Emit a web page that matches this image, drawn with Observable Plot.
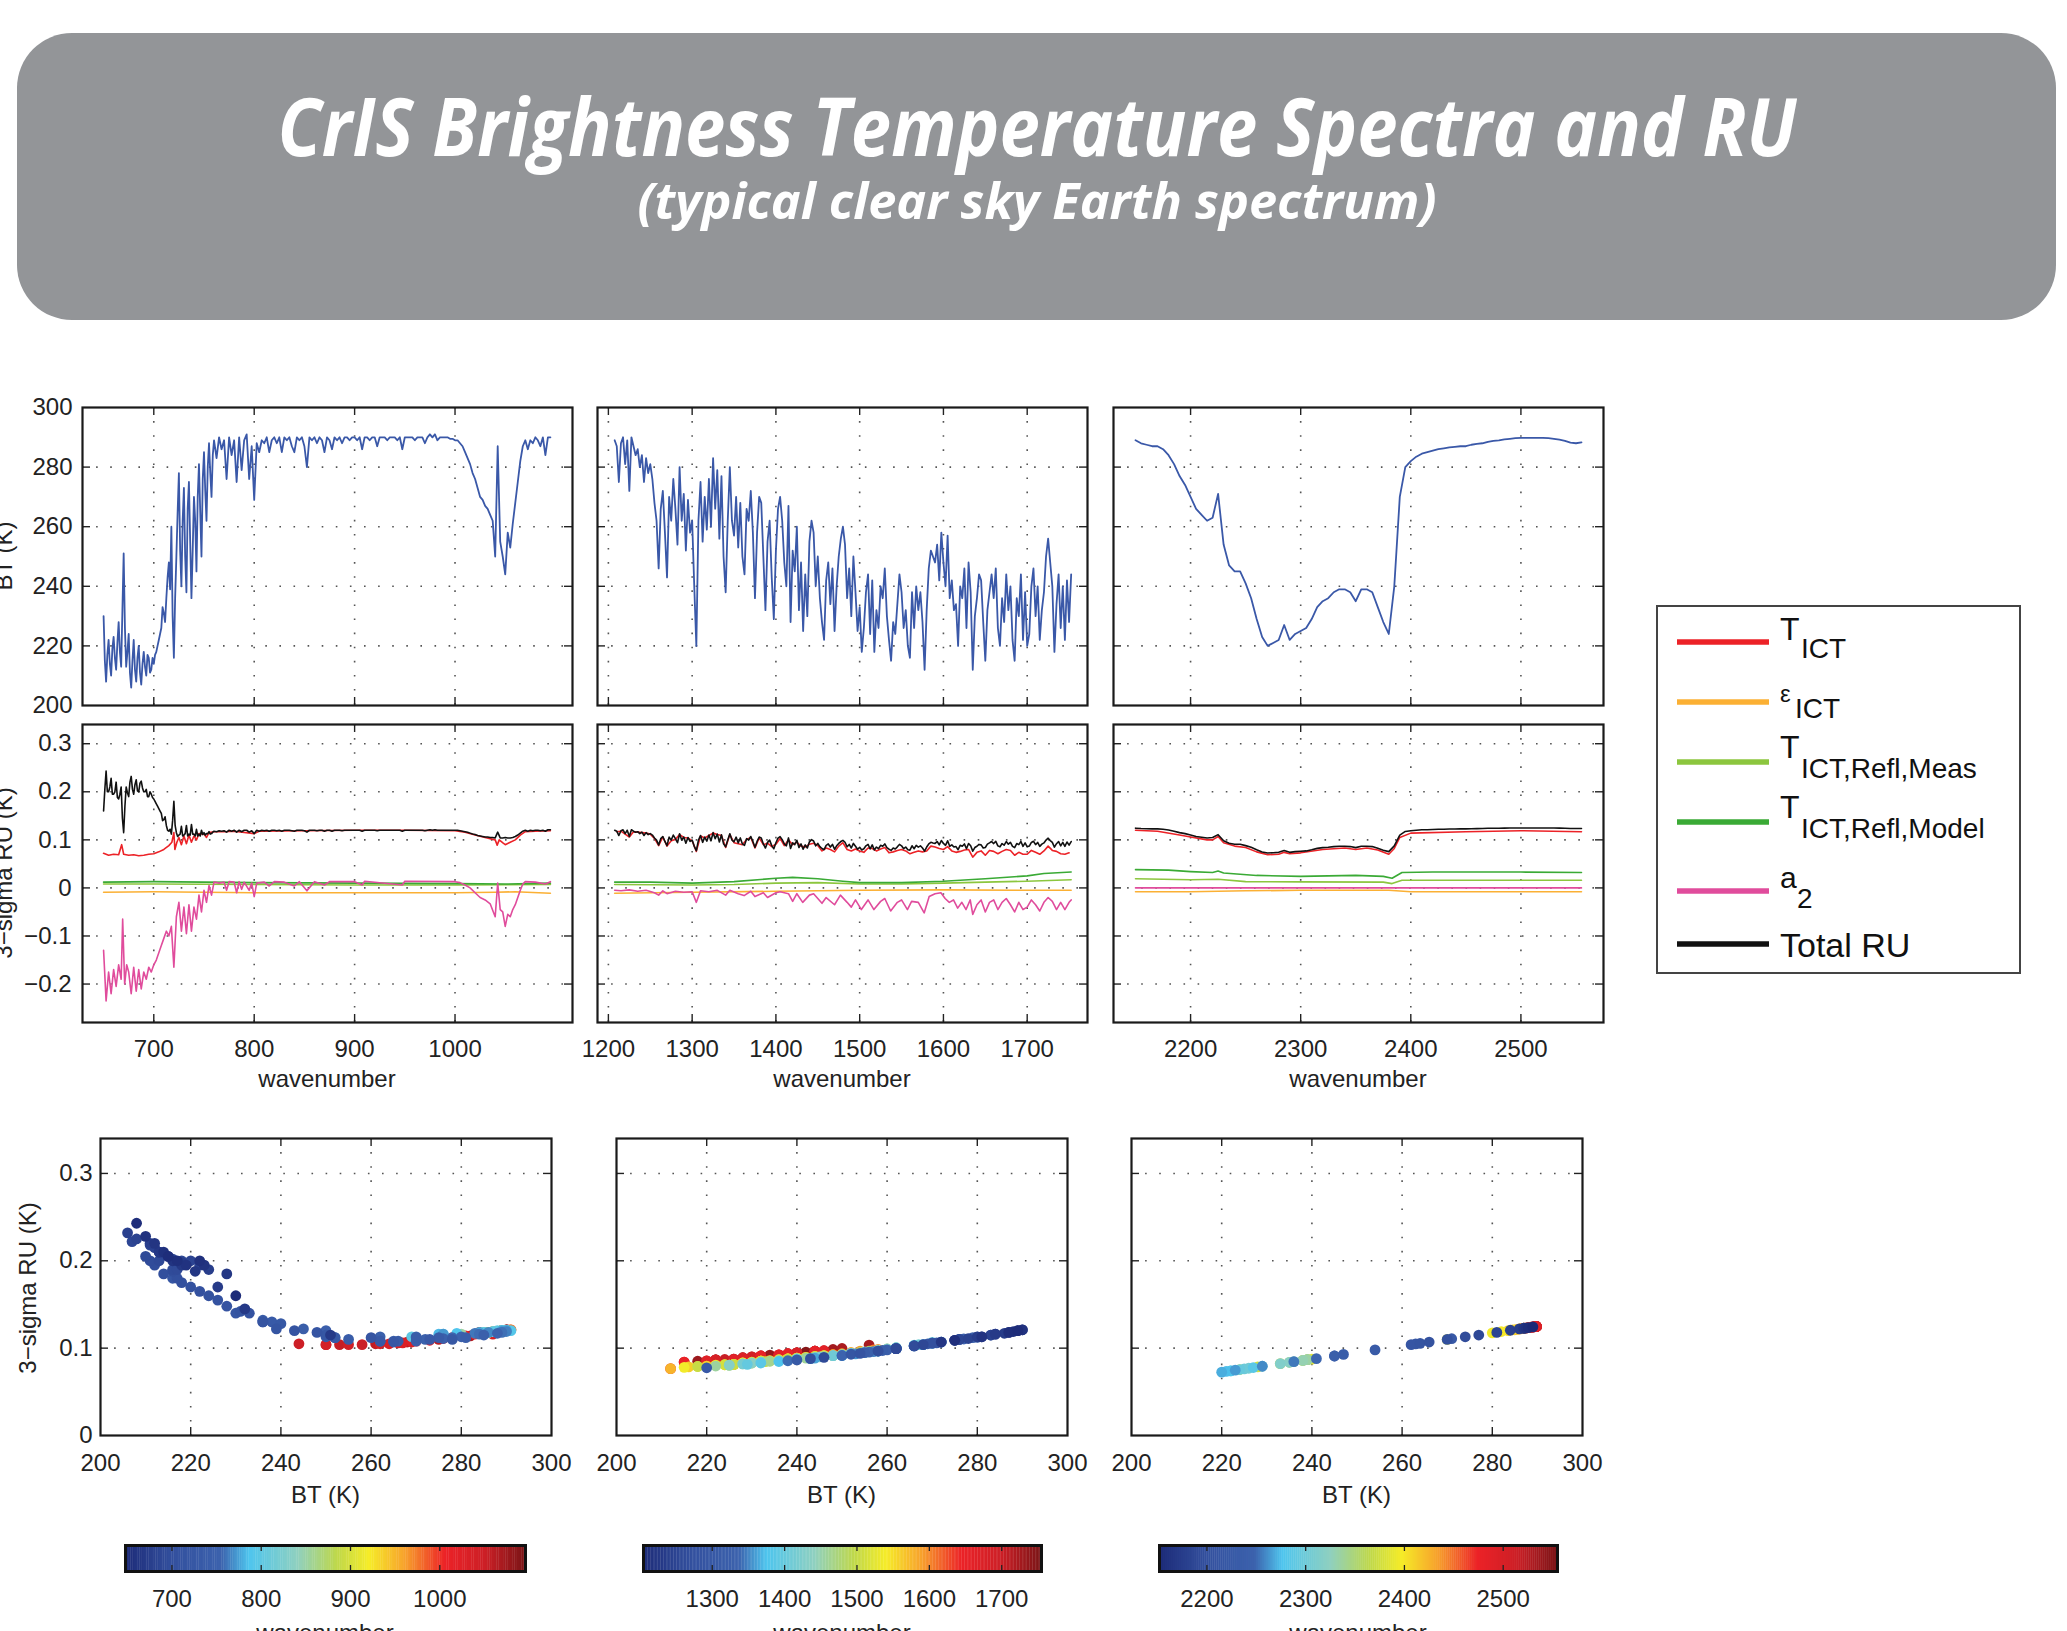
<!DOCTYPE html>
<html><head><meta charset="utf-8">
<script src="https://cdn.jsdelivr.net/npm/d3@7"></script>
<script src="https://cdn.jsdelivr.net/npm/@observablehq/plot@0.6"></script>
<style>
html,body{margin:0;padding:0;background:#fff;}
body{width:2067px;height:1631px;overflow:hidden;position:relative;}
</style></head><body>
<script>
// ---------------- DATA ----------------
// Long-wave band: 1.25 cm-1 sampling below 760, 2.5 cm-1 above
const lwWn = [...d3.range(650, 759, 1.25), ...d3.range(760, 1095.01, 2.5)];
const lwBT = [230,215,208,217,222,214,210,219,223,216,
212,221,228,218,213,232,251,226,213,218,
224,211,206,215,222,212,208,216,220,211,
207,214,218,213,210,217,216,211,212,216,
214,217,218,220,222,224,226,233,231,228,
236,243,248,239,260,230,216,236,250,265,
278,252,240,262,273,250,238,266,275,255,
236,252,270,262,245,270,281,265,250,276,
285,272,262,280,288,278,270,284,
289,
283,290,286,289,276,290,284,289,275,290,279,289,291,276,287,269,
288,285,289,288,290,285,289,290,288,290,
285,290,289,290,287,285,290,289,290,287,
280,290,289,290,288,290,289,285,290,289,
286,290,289,290,288,290,290,289,290,290,
289,290,286,290,290,289,290,290,287,290,
290,290,289,290,290,290,289,290,286,290,
290,290,290,289,290,290,290,288,290,291,
290,291,289,290,290,290,290,289.5,289.5,289,
289,288,287,285,283,281,278,276,273,270,
269,267,266,264,262,250,287,255,250,244,
258,253,261,268,275,282,287,289,286,289,
288,290,289,287,290,284,290,290];
const lwRU = [0.16,0.205,0.243,0.2,0.2,0.21,0.228,0.195,0.195,0.2,
0.22,0.188,0.185,0.195,0.21,0.145,0.115,0.17,0.21,0.198,
0.19,0.22,0.232,0.205,0.195,0.215,0.225,0.202,0.2,0.218,
0.222,0.208,0.2,0.2,0.205,0.19,0.19,0.2,0.195,0.188,
0.185,0.18,0.175,0.17,0.165,0.16,0.155,0.14,0.142,0.148,
0.13,0.12,0.118,0.122,0.112,0.14,0.18,0.13,0.115,0.107,
0.11,0.112,0.128,0.108,0.11,0.113,0.13,0.108,0.112,0.11,
0.132,0.112,0.112,0.108,0.122,0.108,0.112,0.108,0.12,0.111,
0.115,0.11,0.113,0.113,0.117,0.112,0.113,0.116,
0.118,
0.117,0.119,0.118,0.119,0.116,0.12,0.118,0.12,0.116,0.12,0.117,0.12,0.12,0.116,0.119,0.113,
0.12,0.118,0.12,0.119,0.12,0.118,0.12,0.12,0.119,0.12,
0.118,0.12,0.12,0.12,0.119,0.118,0.12,0.12,0.12,0.119,
0.116,0.12,0.12,0.12,0.119,0.12,0.12,0.118,0.12,0.12,
0.118,0.12,0.12,0.12,0.119,0.12,0.12,0.12,0.12,0.12,
0.12,0.12,0.118,0.12,0.12,0.12,0.12,0.12,0.119,0.12,
0.12,0.12,0.12,0.12,0.12,0.12,0.12,0.12,0.118,0.12,
0.12,0.12,0.12,0.12,0.12,0.12,0.12,0.119,0.12,0.121,
0.12,0.121,0.12,0.12,0.12,0.12,0.12,0.12,0.12,0.12,
0.12,0.119,0.118,0.117,0.116,0.114,0.112,0.111,0.109,0.108,
0.107,0.106,0.106,0.105,0.105,0.104,0.116,0.104,0.104,0.105,
0.104,0.104,0.105,0.107,0.11,0.114,0.118,0.12,0.118,0.12,
0.119,0.12,0.12,0.119,0.12,0.118,0.121,0.121];
const lwRed = [[650,0.072],[655,0.068],[660,0.07],[665,0.069],[668,0.09],[670,0.07],[675,0.068],[680,0.069],[685,0.067],[690,0.068],[695,0.07],[700,0.071],[705,0.075],[710,0.08],[715,0.088],[718,0.095],[720,0.115],[721,0.08],[723,0.095],[725,0.105],[727.5,0.09],[730,0.108],[732.5,0.092],[735,0.11],[737.5,0.095],[740,0.108],[742.5,0.1],[745,0.113],[750,0.112],[752.5,0.105],[755,0.115],[760,0.117],[770,0.117],[780,0.118],[800,0.113],[805,0.118],[850,0.119],[900,0.12],[950,0.12],[1000,0.119],[1010,0.116],[1020,0.11],[1030,0.105],[1040,0.1],[1042,0.089],[1044,0.1],[1048,0.093],[1050,0.09],[1055,0.095],[1060,0.1],[1065,0.11],[1070,0.117],[1080,0.118],[1095,0.119]];
const lwEps = [[650,-0.009],[700,-0.008],[750,-0.009],[800,-0.01],[900,-0.01],[1000,-0.01],[1040,-0.009],[1060,-0.008],[1095,-0.011]];
const lwMeas = [[650,0.008],[700,0.008],[800,0.007],[900,0.006],[1000,0.006],[1095,0.007]];
const lwModel = [[650,0.012],[700,0.013],[750,0.012],[800,0.011],[900,0.01],[1000,0.009],[1050,0.008],[1095,0.01]];
const lwA2 = [[650,-0.13],[652.5,-0.235],[655,-0.175],[657.5,-0.22],[660,-0.17],[662.5,-0.205],[665,-0.16],[667.5,-0.19],[669,-0.065],[671,-0.2],[673,-0.16],[675,-0.175],[677.5,-0.22],[680,-0.165],[682.5,-0.215],[685,-0.17],[687.5,-0.21],[690,-0.175],[692.5,-0.19],[695,-0.165],[697.5,-0.175],[700,-0.16],[702.5,-0.15],[705,-0.135],[707.5,-0.12],[710,-0.105],[712.5,-0.09],[715,-0.1],[717.5,-0.08],[720,-0.165],[722.5,-0.06],[725,-0.03],[727.5,-0.09],[730,-0.04],[732.5,-0.095],[735,-0.035],[737.5,-0.09],[740,-0.04],[742.5,-0.065],[745,-0.015],[747.5,-0.05],[750,-0.005],[752.5,-0.03],[755,0.005],[757.5,-0.015],[760,0.012],[765,0.01],[770,0.012],[772.5,-0.005],[775,0.013],[780,0.012],[782.5,-0.01],[785,0.013],[787.5,-0.003],[790,0.012],[795,-0.005],[797.5,0.01],[800,-0.018],[802.5,0.01],[810,0.012],[815,0.004],[820,0.013],[830,0.012],[840,0.004],[845,0.013],[852.5,-0.006],[860,0.013],[870,0.006],[875,0.013],[900,0.013],[907.5,0.006],[910,0.014],[947.5,0.006],[950,0.014],[1000,0.013],[1005,0.011],[1010,0.006],[1015,0.0],[1020,-0.01],[1025,-0.02],[1030,-0.025],[1035,-0.033],[1040,-0.06],[1042.5,0.01],[1045,-0.045],[1047.5,-0.05],[1050,-0.08],[1052.5,-0.055],[1055,-0.06],[1057.5,-0.045],[1060,-0.035],[1062.5,-0.02],[1065,-0.005],[1067.5,0.008],[1070,0.013],[1080,0.012],[1090,0.008],[1095,0.013]];

// Mid-wave band (1207.5-1752.5, 2.5 cm-1 sampling)
const mwWn = d3.range(1207.5, 1752.51, 2.5);
const mwBT = [289,287,275,288,290,281,289,272,290,287,
284,286,280,284,275,283,278,281,276,268,
262,246,266,272,258,243,270,262,276,266,
254,280,262,271,252,269,258,262,240,220,
262,275,255,270,259,276,260,283,266,279,
256,277,250,238,262,280,262,257,270,253,
268,250,244,266,262,272,258,236,258,270,
268,250,232,255,262,243,229,252,266,270,
262,248,240,267,228,252,245,260,232,248,
225,244,230,255,262,258,240,250,236,228,
222,242,248,234,246,225,240,250,256,260,
254,236,246,230,250,238,225,233,218,226,
238,244,224,242,218,232,226,240,236,246,
230,222,215,228,224,234,244,238,226,232,
220,216,238,226,240,232,238,228,212,232,
246,252,250,248,254,242,258,248,240,257,
236,242,232,234,220,240,236,246,226,248,
238,212,230,236,244,242,228,215,232,238,
244,236,246,226,220,236,228,244,232,240,
222,215,236,230,244,222,238,220,224,240,
246,230,240,222,232,238,250,256,248,240,
218,234,244,226,240,222,242,228,244];
const mwRU = [0.120,0.118,0.109,0.119,0.121,0.113,0.120,0.107,0.121,0.118,
0.116,0.117,0.113,0.116,0.109,0.115,0.111,0.113,0.110,0.104,
0.0995,0.0895,0.1025,0.107,0.0967,0.088,0.1057,0.0995,0.110,0.1025,
0.094,0.1126,0.0995,0.106,0.093,0.105,0.0967,0.0995,0.0866,0.0775,
0.0995,0.109,0.0948,0.1057,0.0973,0.110,0.098,0.115,0.1025,0.112,
0.0955,0.1105,0.0916,0.0856,0.0995,0.1126,0.0995,0.096,0.1057,0.0935,
0.104,0.0916,0.0885,0.1025,0.0995,0.107,0.0967,0.0847,0.0967,0.1057,
0.104,0.0916,0.083,0.0948,0.0995,0.088,0.0815,0.094,0.1035,0.1067,
0.1005,0.0915,0.0876,0.104,0.082,0.094,0.090,0.099,0.084,0.0915,
0.0805,0.0895,0.083,0.0958,0.1005,0.0977,0.0876,0.0926,0.0857,0.082,
0.0795,0.0885,0.0915,0.085,0.0905,0.0805,0.0876,0.0926,0.0965,0.099,
0.095,0.0857,0.0905,0.083,0.0926,0.0866,0.0805,0.0845,0.079,0.0815,
0.0876,0.0905,0.081,0.0895,0.079,0.085,0.0815,0.0886,0.0867,0.0915,
0.084,0.0805,0.078,0.083,0.081,0.0855,0.0905,0.0876,0.0815,0.085,
0.0795,0.0785,0.0876,0.0815,0.0886,0.085,0.0876,0.083,0.0765,0.085,
0.0915,0.095,0.0936,0.0925,0.0965,0.0895,0.0987,0.0925,0.0886,0.098,
0.0867,0.0895,0.085,0.086,0.0795,0.0886,0.0867,0.0915,0.0815,0.0925,
0.0876,0.0765,0.084,0.0867,0.0905,0.0895,0.083,0.084,0.091,0.0936,
0.0965,0.0923,0.097,0.0875,0.0855,0.0923,0.089,0.0965,0.091,0.0946,
0.0865,0.084,0.0923,0.09,0.0965,0.0865,0.0936,0.0855,0.087,0.0946,
0.097,0.09,0.0946,0.0865,0.091,0.0936,0.0996,0.1035,0.0985,0.0946,
0.085,0.092,0.0965,0.0875,0.0946,0.0865,0.0955,0.089,0.0965];
const mwRedWn = d3.range(1210, 1750.01, 5);
const mwRedVals = [0.117,0.118,0.112,0.106,0.117,0.116,0.115,0.114,0.112,0.103,
0.088,0.106,0.087,0.098,0.101,0.111,0.105,0.104,0.098,0.076,
0.108,0.104,0.109,0.114,0.111,0.109,0.084,0.111,0.094,0.092,
0.09,0.101,0.105,0.083,0.104,0.09,0.093,0.086,0.091,0.103,
0.088,0.1,0.09,0.095,0.087,0.085,0.091,0.093,0.088,0.077,
0.083,0.08,0.075,0.087,0.094,0.08,0.077,0.081,0.077,0.074,
0.083,0.082,0.077,0.081,0.084,0.073,0.075,0.078,0.08,0.077,
0.071,0.074,0.077,0.075,0.077,0.087,0.085,0.082,0.08,0.086,
0.077,0.074,0.076,0.079,0.08,0.064,0.074,0.077,0.068,0.078,
0.076,0.071,0.076,0.08,0.078,0.068,0.074,0.07,0.07,0.078,
0.074,0.07,0.077,0.087,0.078,0.076,0.071,0.07,0.073];
const mwEps = [[1207.5,-0.011],[1300,-0.009],[1400,-0.007],[1500,-0.005],[1600,-0.004],[1700,-0.005],[1752.5,-0.005]];
const mwMeas = [[1207.5,0.007],[1300,0.006],[1350,0.007],[1400,0.01],[1450,0.011],[1500,0.008],[1550,0.008],[1600,0.01],[1650,0.012],[1700,0.014],[1752.5,0.017]];
const mwModel = [[1207.5,0.012],[1250,0.012],[1300,0.01],[1350,0.013],[1400,0.02],[1420,0.022],[1450,0.019],[1480,0.014],[1500,0.011],[1550,0.011],[1600,0.014],[1650,0.019],[1700,0.025],[1720,0.03],[1752.5,0.033]];
const mwA2 = [[1207.5,-0.005],[1215,-0.006],[1225,-0.004],[1235,-0.007],[1245,-0.005],[1255,-0.01],[1260,-0.015],[1265,-0.006],[1270,-0.012],[1280,-0.007],[1290,-0.009],[1300,-0.008],[1305,-0.03],[1310,-0.006],[1320,-0.008],[1330,-0.005],[1340,-0.015],[1345,-0.005],[1355,-0.012],[1362,-0.016],[1370,-0.007],[1375,-0.018],[1385,-0.01],[1390,-0.02],[1400,-0.01],[1405,-0.008],[1415,-0.012],[1420,-0.028],[1425,-0.012],[1432,-0.03],[1440,-0.015],[1445,-0.012],[1455,-0.032],[1460,-0.02],[1470,-0.035],[1477,-0.015],[1485,-0.03],[1490,-0.04],[1495,-0.025],[1502,-0.045],[1510,-0.025],[1517,-0.045],[1525,-0.028],[1530,-0.022],[1537,-0.048],[1545,-0.03],[1550,-0.025],[1557,-0.045],[1562,-0.028],[1570,-0.03],[1577,-0.052],[1583,-0.018],[1590,-0.012],[1597,-0.01],[1602,-0.022],[1607,-0.03],[1612,-0.025],[1617,-0.042],[1622,-0.03],[1627,-0.045],[1632,-0.025],[1635,-0.055],[1640,-0.035],[1645,-0.025],[1650,-0.05],[1655,-0.03],[1660,-0.025],[1665,-0.045],[1670,-0.03],[1675,-0.022],[1680,-0.035],[1685,-0.05],[1690,-0.03],[1695,-0.045],[1700,-0.04],[1705,-0.025],[1710,-0.035],[1715,-0.048],[1720,-0.03],[1725,-0.02],[1730,-0.028],[1735,-0.045],[1740,-0.03],[1745,-0.045],[1750,-0.03],[1752.5,-0.025]];

// Short-wave band (2150-2555, 5 cm-1 sampling)
const swWn = d3.range(2150, 2555.01, 5);
const swBT = [289,288,287.5,287,287,286,284,281,277,274,
270,266,264,262,263,271,254,247,245,245,
241,236,229,223,220,221,222,227,222,224,
225,226,229,233,235,236,238,239,239,238,
235,239,239,238,233,228,224,240,270,280,
282,283.5,284.5,285,285.5,286,286.3,286.6,286.8,287,
287,287.5,287.8,288,288.5,288.8,289,289.3,289.5,289.7,
289.8,289.8,289.8,289.8,289.8,289.7,289.5,289.2,288.8,288.2,
288,288.3];
const swRU = [0.1243,0.1235,0.123,0.1228,0.1228,0.122,0.1205,0.118,0.115,0.113,
0.11,0.107,0.1055,0.104,0.1048,0.1108,0.098,0.0928,0.091,0.091,
0.088,0.0845,0.0793,0.0748,0.0725,0.0733,0.074,0.0778,0.074,0.0755,
0.0763,0.077,0.0793,0.0823,0.0838,0.0845,0.086,0.0868,0.0868,0.086,
0.0838,0.0868,0.0868,0.086,0.0823,0.0785,0.0755,0.0875,0.11,0.1175,
0.119,0.12,0.121,0.121,0.1215,0.122,0.122,0.1225,0.1225,0.1228,
0.1228,0.123,0.1233,0.1235,0.124,0.124,0.1243,0.1245,0.1246,0.1248,
0.1248,0.1248,0.1248,0.1248,0.1248,0.1248,0.1246,0.1244,0.124,0.1236,
0.1235,0.1237];
const swRed = [[2150,0.12],[2170,0.118],[2190,0.11],[2200,0.106],[2215,0.1],[2220,0.1],[2225,0.107],[2230,0.094],[2240,0.087],[2250,0.084],[2260,0.075],[2270,0.069],[2280,0.07],[2285,0.074],[2290,0.071],[2300,0.073],[2320,0.08],[2340,0.083],[2350,0.08],[2360,0.083],[2370,0.079],[2380,0.07],[2385,0.082],[2390,0.105],[2400,0.114],[2450,0.117],[2500,0.119],[2555,0.117]];
const swEps = [[2150,-0.008],[2200,-0.008],[2250,-0.006],[2300,-0.005],[2380,-0.005],[2400,-0.008],[2555,-0.008]];
const swMeas = [[2150,0.019],[2200,0.017],[2225,0.018],[2250,0.013],[2300,0.0125],[2375,0.012],[2383,0.009],[2392,0.016],[2555,0.016]];
const swModel = [[2150,0.038],[2180,0.037],[2200,0.034],[2220,0.032],[2225,0.035],[2230,0.031],[2260,0.026],[2300,0.024],[2350,0.026],[2375,0.024],[2383,0.02],[2392,0.032],[2420,0.033],[2500,0.033],[2555,0.032]];
const swA2 = [[2150,0.0],[2300,0.0],[2555,0.0]];

// Ticks / labels
const lwTicks = [700,800,900,1000];
const mwTicks = [1200,1300,1400,1500,1600,1700];
const swTicks = [2200,2300,2400,2500];
const btTicks = [200,220,240,260,280,300];
const ruTicks = [-0.2,-0.1,0,0.1,0.2,0.3];
const scatterBtTicks = [200,220,240,260,280,300];
const scatterRuTicks = [0,0.1,0.2,0.3];
const cbTicksLW = [700,800,900,1000];
const cbTicksMW = [1300,1400,1500,1600,1700];
const cbTicksSW = [2200,2300,2400,2500];
const titleText = "CrIS Brightness Temperature Spectra and RU";
const subtitleText = "(typical clear sky Earth spectrum)";
const legendLabels = [["T","ICT"],["ε","ICT"],["T","ICT,Refl,Meas"],["T","ICT,Refl,Model"],["a","2"],["Total RU",""]];
const legendColors = ["#ec2227","#fbb034","#8cc63e","#3aaa35","#e04c9c","#111111"];

// ---------------- STYLE ----------------
const fontFamily = '"Liberation Sans", Arial, Helvetica, sans-serif';
const axisStyle = {fontSize: "24px", fontFamily, color: "#222", background: "transparent", overflow: "visible"};
const btColor = "#3a58a8";
const fmt = d => (d < 0 ? "−" : "") + String(Math.abs(d));
const jetStops = [0,0.12,0.24,0.31,0.43,0.53,0.61,0.7,0.8,0.9,1];
const jetColors = ["#1d2b78","#33509e","#3c62ad","#4ec5ee","#8fd0c0","#bfd84a","#f6ec28","#f7a12c","#ec2227","#cc1f26","#7a1416"];
function jetScale(dom){
  return {type:"linear", domain: jetStops.map(t => dom[0] + t*(dom[1]-dom[0])), range: jetColors, interpolate: "rgb"};
}

const bands = [
  {wn: lwWn, bt: lwBT, ru: lwRU, red: lwRed, eps: lwEps, meas: lwMeas, model: lwModel, a2: lwA2,
   xDomain: [629,1117], xTicks: lwTicks, fx: 82, bx: 100, cbx: 125, cbw: 400, cbDomain: [648,1096], cbTicks: cbTicksLW},
  {wn: mwWn, bt: mwBT, ru: mwRU, red: d3.zip(mwRedWn, mwRedVals), eps: mwEps, meas: mwMeas, model: mwModel, a2: mwA2,
   xDomain: [1187,1772], xTicks: mwTicks, fx: 597, bx: 616, cbx: 643, cbw: 398, cbDomain: [1205,1755], cbTicks: cbTicksMW},
  {wn: swWn, bt: swBT, ru: swRU, red: swRed, eps: swEps, meas: swMeas, model: swModel, a2: swA2,
   xDomain: [2130,2575], xTicks: swTicks, fx: 1113, bx: 1131, cbx: 1159, cbw: 398, cbDomain: [2152,2555], cbTicks: cbTicksSW}
];

function place(el, left, top){
  el.style.position = "absolute"; el.style.left = left + "px"; el.style.top = top + "px";
  document.body.appendChild(el);
}
function gridMarks(xg, yg, fw, fh){
  const dot = {stroke: "#555", strokeWidth: 1.6, strokeDasharray: "1.6,12.5"};
  const tk = {stroke: "#222", strokeWidth: 1.4};
  return [
    Plot.ruleX(xg, dot), Plot.ruleY(yg, dot),
    Plot.ruleX(xg, {...tk, insetTop: fh - 8}), Plot.ruleX(xg, {...tk, insetBottom: fh - 8}),
    Plot.ruleY(yg, {...tk, insetRight: fw - 8}), Plot.ruleY(yg, {...tk, insetLeft: fw - 8})
  ];
}
const frame = () => Plot.frame({stroke: "#1a1a1a", strokeWidth: 2.2});
const lineOf = (pairs, stroke, w=1.6) => Plot.line(pairs, {x: d => d[0], y: d => d[1], stroke, strokeWidth: w});

bands.forEach((b, i) => {
  const fw = 490, fh = 298, mt = 12, mr = 12;
  const ml = i === 0 ? 82 : 12;
  // top: BT spectrum
  const top = Plot.plot({
    width: ml + fw + mr, height: mt + fh + 12, marginLeft: ml, marginRight: mr, marginTop: mt, marginBottom: 12,
    style: axisStyle,
    x: {domain: b.xDomain, axis: null},
    y: {domain: [200,300], ticks: btTicks, tickSize: 0, tickPadding: 10, tickFormat: fmt, label: null, axis: i === 0 ? "left" : null},
    marks: [
      ...gridMarks(b.xTicks, [220,240,260,280], fw, fh),
      lineOf(d3.zip(b.wn, b.bt), btColor, 1.8),
      frame()
    ]
  });
  place(top, b.fx - ml, 407 - mt);

  // middle: RU contributions
  const mid = Plot.plot({
    width: ml + fw + mr, height: mt + fh + 50, marginLeft: ml, marginRight: mr, marginTop: mt, marginBottom: 50,
    style: axisStyle,
    x: {domain: b.xDomain, ticks: b.xTicks, tickSize: 0, tickPadding: 17, tickFormat: fmt, label: null},
    y: {domain: [-0.28,0.34], ticks: ruTicks, tickSize: 0, tickPadding: 11, tickFormat: fmt, label: null, axis: i === 0 ? "left" : null},
    marks: [
      ...gridMarks(b.xTicks, ruTicks, fw, fh),
      lineOf(b.red, legendColors[0]),
      lineOf(b.eps, legendColors[1]),
      lineOf(b.meas, legendColors[2]),
      lineOf(b.model, legendColors[3]),
      lineOf(b.a2, legendColors[4]),
      lineOf(d3.zip(b.wn, b.ru), legendColors[5]),
      frame()
    ]
  });
  place(mid, b.fx - ml, 724 - mt);

  // bottom: scatter BT vs RU coloured by wavenumber
  const sfw = 451, sfh = 297, sml = i === 0 ? 100 : 12;
  const pts = b.wn.map((w, j) => ({wn: w, bt: b.bt[j], ru: b.ru[j]})).sort((a, c) => c.wn - a.wn);
  const sc = Plot.plot({
    width: sml + sfw + 12, height: 12 + sfh + 50, marginLeft: sml, marginRight: 12, marginTop: 12, marginBottom: 50,
    style: axisStyle,
    x: {domain: [200,300], ticks: scatterBtTicks, tickSize: 0, tickPadding: 18, tickFormat: fmt, label: null},
    y: {domain: [0,0.34], ticks: scatterRuTicks, tickSize: 0, tickPadding: 8, tickFormat: fmt, label: null, axis: i === 0 ? "left" : null},
    color: jetScale(b.cbDomain),
    marks: [
      ...gridMarks([220,240,260,280], [0.1,0.2,0.3], sfw, sfh),
      Plot.dot(pts, {x: "bt", y: "ru", fill: "wn", r: 5.4}),
      frame()
    ]
  });
  place(sc, b.bx - sml, 1138 - 12);

  // colorbar
  const cfh = 26;
  const cells = d3.range(b.cbDomain[0], b.cbDomain[1], 2);
  const cb = Plot.plot({
    width: 12 + b.cbw + 12, height: 6 + cfh + 40, marginLeft: 12, marginRight: 12, marginTop: 6, marginBottom: 40,
    style: axisStyle,
    x: {domain: b.cbDomain, ticks: b.cbTicks, tickSize: 0, tickPadding: 18, tickFormat: fmt, label: null},
    y: {domain: [0,1], axis: null},
    color: jetScale(b.cbDomain),
    marks: [
      Plot.rect(cells, {x1: d => d, x2: d => Math.min(d + 2.4, b.cbDomain[1]), y1: 0, y2: 1, fill: d => d + 1}),
      Plot.ruleX(b.cbTicks, {stroke: "#222", strokeWidth: 1.3, insetTop: cfh - 6}),
      Plot.ruleX(b.cbTicks, {stroke: "#222", strokeWidth: 1.3, insetBottom: cfh - 6}),
      Plot.frame({stroke: "#111", strokeWidth: 3})
    ]
  });
  place(cb, b.cbx - 12, 1545 - 6);
});

// ---------------- TEXT LABELS ----------------
function label(text, x, y, rotate){
  const d = document.createElement("div");
  d.textContent = text;
  d.style.cssText = `position:absolute;left:${x}px;top:${y}px;font-size:24px;font-family:${fontFamily};color:#222;white-space:nowrap;line-height:1;transform:translate(-50%,-50%)${rotate ? " rotate(-90deg)" : ""};`;
  document.body.appendChild(d);
}
label("BT (K)", 4, 556, true);
label("3−sigma RU (K)", 4, 873, true);
label("3−sigma RU (K)", 28, 1288, true);
[327, 842, 1358].forEach(x => label("wavenumber", x, 1079));
[325.5, 841.5, 1356.5].forEach(x => label("BT (K)", x, 1495));
[325, 842, 1358].forEach(x => label("wavenumber", x, 1633));

// ---------------- TITLE BANNER & LEGEND ----------------
const lineY = [642, 702, 762, 822, 891, 944];
const mainSize = [32, 24, 32, 32, 30, 34];
const mainBase = [640, 702, 758, 818, 888, 957];
const subX = [1801, 1795, 1801, 1801, 1797, 0];
const subBase = [658, 718, 778, 838, 908, 0];
let legendSvg = `<rect x="1657" y="606" width="363" height="367" fill="#fff" stroke="#444" stroke-width="2"/>`;
legendLabels.forEach((lab, k) => {
  legendSvg += `<line x1="1677" x2="1769" y1="${lineY[k]}" y2="${lineY[k]}" stroke="${legendColors[k]}" stroke-width="5.5"/>`;
  legendSvg += `<text x="1780" y="${mainBase[k]}" font-size="${mainSize[k]}" fill="#111" font-family='${fontFamily}'>${lab[0]}</text>`;
  if (lab[1]) legendSvg += `<text x="${subX[k]}" y="${subBase[k]}" font-size="28" fill="#111" font-family='${fontFamily}'>${lab[1]}</text>`;
});
const overlay = document.createElement("div");
overlay.innerHTML = `<svg width="2067" height="1631" xmlns="http://www.w3.org/2000/svg" style="position:absolute;left:0;top:0;pointer-events:none">
<rect x="17" y="33" width="2039" height="287" rx="55" ry="55" fill="#939598"/>
<text x="1037" y="156" text-anchor="middle" font-family="'Open Sans', 'Noto Sans', sans-serif" font-weight="700" font-style="italic" font-size="80" fill="#fff" textLength="1519" lengthAdjust="spacingAndGlyphs">${titleText}</text>
<text x="1037" y="219" text-anchor="middle" font-family="'Open Sans', 'Noto Sans', sans-serif" font-weight="700" font-style="italic" font-size="50" fill="#fff" textLength="799" lengthAdjust="spacingAndGlyphs">${subtitleText}</text>
${legendSvg}
</svg>`;
document.body.appendChild(overlay.firstElementChild);
</script>
</body></html>
